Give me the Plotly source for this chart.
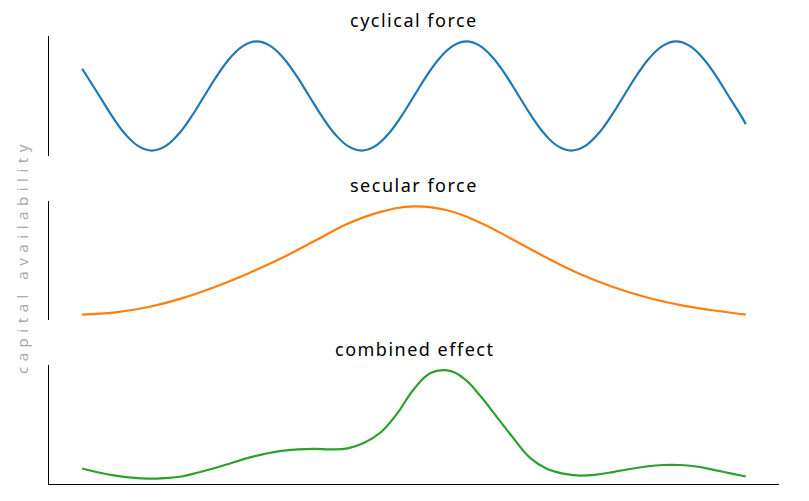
import plotly.graph_objects as go

# ---- data ----
cyc_x = [0.0, 2.6, 4.58, 6.55, 8.53, 10.5, 12.48, 14.45, 16.43, 18.4, 20.38, 22.35, 24.33,
         26.3, 28.28, 30.25, 32.23, 34.2, 36.18, 38.15, 40.13, 42.1, 44.08, 46.05, 48.03,
         50.0, 51.98, 53.95, 55.93, 57.9, 59.88, 61.85, 63.83, 65.8, 67.78, 69.75, 71.73,
         73.7, 75.68, 77.65, 79.63, 81.6, 83.58, 85.55, 87.53, 89.5, 91.48, 93.45, 95.43,
         97.4, 99.38, 100.0]
cyc_y = [0.5, 0.0, -0.383, -0.707, -0.924, -1.0, -0.924, -0.707, -0.383, 0.0, 0.383, 0.707, 0.924,
         1.0, 0.924, 0.707, 0.383, 0.0, -0.383, -0.707, -0.924, -1.0, -0.924, -0.707, -0.383,
         0.0, 0.383, 0.707, 0.924, 1.0, 0.924, 0.707, 0.383, 0.0, -0.383, -0.707, -0.924,
         -1.0, -0.924, -0.707, -0.383, 0.0, 0.383, 0.707, 0.924, 1.0, 0.924, 0.707, 0.383,
         0.0, -0.383, -0.52]

sec_x = [0, 5, 10, 15, 20, 25, 30, 35, 40, 45, 50, 55, 60, 65, 70, 75, 80, 85, 90, 95, 100]
sec_y = [0.0, 0.02, 0.07, 0.15, 0.255, 0.38, 0.52, 0.68, 0.84, 0.95, 1.0, 0.965, 0.85,
         0.69, 0.525, 0.375, 0.255, 0.16, 0.09, 0.04, 0.0]

com_x = [0, 2.5, 5, 7.5, 10, 12.5, 15, 17.5, 20, 22.5, 25, 27.5, 30, 32.5, 35, 37.5, 40,
         42.5, 45, 47.5, 50, 52.5, 55, 57.5, 60, 62.5, 65, 67.5, 70, 72.5, 75, 77.5, 80,
         82.5, 85, 87.5, 90, 92.5, 95, 97.5, 100]
com_y = [0.093, 0.056, 0.028, 0.009, 0.0, 0.005, 0.019, 0.056, 0.097, 0.144, 0.19, 0.227,
         0.255, 0.269, 0.273, 0.269, 0.278, 0.329, 0.426, 0.602, 0.824, 0.972, 0.995, 0.921,
         0.759, 0.565, 0.37, 0.19, 0.09, 0.045, 0.028, 0.037, 0.06, 0.088, 0.111, 0.125,
         0.125, 0.111, 0.083, 0.051, 0.019]

titles = ["cyclical force", "secular force", "combined effect"]
colors = ["#1f77b4", "#ff7f0e", "#2ca02c"]
ylabel = "capital availability"

series = [(cyc_x, cyc_y), (sec_x, sec_y), (com_x, com_y)]

OFF = 8  # default page body margin
W, H = 809 - OFF, 501 - OFF
ML, MR, MT, MB = 49 - OFF, 30, 36 - OFF, 17
plot_h = H - MT - MB
rows_px = [(36, 156), (201, 320), (365, 484)]  # top, bottom on screen
domains = []
for t, b in rows_px:
    t -= OFF
    b -= OFF
    domains.append([max(0.0, (H - MB - b) / plot_h), min(1.0, (H - MB - t) / plot_h)])

FONT = "Noto Sans, Roboto, sans-serif"
fig = go.Figure()
layout = dict(
    width=W, height=H,
    margin=dict(l=ML, r=MR, t=MT, b=MB),
    paper_bgcolor="white", plot_bgcolor="white",
    showlegend=False,
    font=dict(family=FONT, color="black"),
)
annotations = []
for i, ((xs, ys), c, t, dom) in enumerate(zip(series, colors, titles, domains)):
    n = "" if i == 0 else str(i + 1)
    fig.add_trace(go.Scatter(x=xs, y=ys, mode="lines",
                             line=dict(color=c, width=2.2, shape="spline", smoothing=1.2),
                             xaxis="x" + n, yaxis="y" + n, hoverinfo="skip"))
    lo, hi = min(ys), max(ys)
    pad = (hi - lo) * 0.05
    layout["xaxis" + n] = dict(domain=[0, 1], anchor="y" + n, range=[-5, 105],
                               showgrid=False, zeroline=False, showticklabels=False, ticks="",
                               showline=(i == 2), linecolor="black", linewidth=1.2)
    layout["yaxis" + n] = dict(domain=dom, anchor="x" + n, range=[lo - pad, hi + pad],
                               showgrid=False, zeroline=False, showticklabels=False, ticks="",
                               showline=True, linecolor="black", linewidth=1.2)
    annotations.append(dict(text='<span style="letter-spacing:1.5px">' + t + '</span>',
                            xref="paper", yref="paper", x=0.5, y=dom[1],
                            xanchor="center", yanchor="bottom", yshift=3, showarrow=False,
                            borderpad=0,
                            font=dict(size=18, color="black", family=FONT)))

annotations.append(dict(text='<span style="letter-spacing:5.5px">' + ylabel + '</span>',
                        xref="paper", yref="paper", x=(22 - 49) / (W - ML - MR),
                        y=(H - MB - (257 - OFF)) / plot_h, xanchor="center", yanchor="middle",
                        textangle=-90, showarrow=False,
                        font=dict(size=15, color="#aaaaaa", family=FONT)))
layout["annotations"] = annotations
fig.update_layout(**layout)
fig.write_html("out.html")
